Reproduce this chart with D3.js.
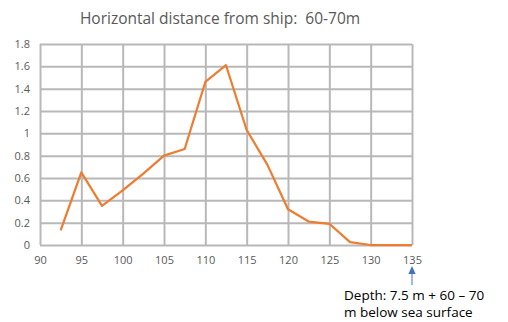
<!DOCTYPE html>
<html>
<head>
<meta charset="utf-8">
<script src="https://cdn.jsdelivr.net/npm/d3@7"></script>
<style>
  html, body { margin: 0; padding: 0; background: #fff; }
  svg { display: block; font-family: "Open Sans", "Liberation Sans", sans-serif; }
</style>
</head>
<body>
<svg id="chart" width="508" height="322"></svg>
<script>
// Distance bins (x) and measured values (y)
const xValues = [92.5, 95, 97.5, 100, 102.5, 105, 107.5, 110, 112.5, 115, 117.5, 120, 122.5, 125, 127.5, 130, 132.5, 135];
const yValues = [0.13, 0.65, 0.35, 0.49, 0.64, 0.80, 0.86, 1.46, 1.61, 1.03, 0.72, 0.32, 0.21, 0.19, 0.025, 0.0, 0.0, 0.0];
const xTicks = [90, 95, 100, 105, 110, 115, 120, 125, 130, 135];
const yTicks = [0, 0.2, 0.4, 0.6, 0.8, 1, 1.2, 1.4, 1.6, 1.8];

const titleText = "Horizontal distance from ship:  60-70m";
const noteLines = ["Depth: 7.5 m + 60 \u2013 70", "m below sea surface"];

const svg = d3.select("#chart");
const plot = { left: 40, right: 412, top: 44, bottom: 245 };

const x = d3.scaleLinear().domain([90, 135]).range([plot.left, plot.right]);
const y = d3.scaleLinear().domain([0, 1.8]).range([plot.bottom, plot.top]);

const gridColor = "#b8b8b8";
const textColor = "#595959";

// Gridlines
svg.append("g")
  .attr("transform", `translate(0,${plot.bottom})`)
  .call(d3.axisBottom(x).tickValues(xTicks).tickSize(-(plot.bottom - plot.top)).tickFormat(""))
  .call(g => g.select(".domain").remove())
  .call(g => g.selectAll("line").attr("stroke", gridColor).attr("stroke-width", 2));

svg.append("g")
  .attr("transform", `translate(${plot.left},0)`)
  .call(d3.axisLeft(y).tickValues(yTicks).tickSize(-(plot.right - plot.left)).tickFormat(""))
  .call(g => g.select(".domain").remove())
  .call(g => g.selectAll("line").attr("stroke", gridColor).attr("stroke-width", 2));

// Tick labels
svg.append("g")
  .attr("transform", `translate(0,${plot.bottom})`)
  .call(d3.axisBottom(x).tickValues(xTicks).tickSize(0).tickPadding(11).tickFormat(d3.format("d")))
  .call(g => g.select(".domain").remove())
  .call(g => g.selectAll("text").attr("fill", textColor).style("font-size", "11px").style("font-family", "'Open Sans', sans-serif"));

svg.append("g")
  .attr("transform", `translate(${plot.left},0)`)
  .call(d3.axisLeft(y).tickValues(yTicks).tickSize(0).tickPadding(10).tickFormat(d => d3.format("")(+d.toFixed(1))))
  .call(g => g.select(".domain").remove())
  .call(g => g.selectAll("text").attr("fill", textColor).style("font-size", "11px").style("font-family", "'Open Sans', sans-serif"));

// Data line
const data = xValues.map((v, i) => ({ x: v, y: yValues[i] }));
svg.append("path")
  .datum(data)
  .attr("fill", "none")
  .attr("stroke", "#ED7D31")
  .attr("stroke-width", 2.25)
  .attr("stroke-linejoin", "round")
  .attr("d", d3.line().x(d => x(d.x)).y(d => y(d.y)));

// Title (keeps the double space)
svg.append("text")
  .attr("x", 220)
  .attr("y", 24)
  .attr("text-anchor", "middle")
  .attr("fill", textColor)
  .style("font-size", "15.5px")
  .style("white-space", "pre")
  .text(titleText);

// Arrow pointing at the last tick
const ax = x(135);
svg.append("defs").append("marker")
  .attr("id", "arrowHead")
  .attr("viewBox", "0 0 10 10")
  .attr("refX", 5).attr("refY", 5)
  .attr("markerWidth", 8).attr("markerHeight", 8)
  .attr("markerUnits", "userSpaceOnUse")
  .attr("orient", "auto")
  .append("path")
  .attr("d", "M0,0.5 L10,5 L0,9.5 Z")
  .attr("fill", "#4472C4");

svg.append("line")
  .attr("x1", ax).attr("x2", ax)
  .attr("y1", 285).attr("y2", 270)
  .attr("stroke", "#4472C4")
  .attr("stroke-width", 1)
  .attr("marker-end", "url(#arrowHead)");

// Annotation
svg.append("text")
  .attr("x", 344)
  .attr("fill", "#000")
  .style("font-size", "13.5px")
  .selectAll("tspan")
  .data(noteLines)
  .join("tspan")
  .attr("x", 344)
  .attr("y", (d, i) => 300 + i * 17)
  .text(d => d);
</script>
</body>
</html>
